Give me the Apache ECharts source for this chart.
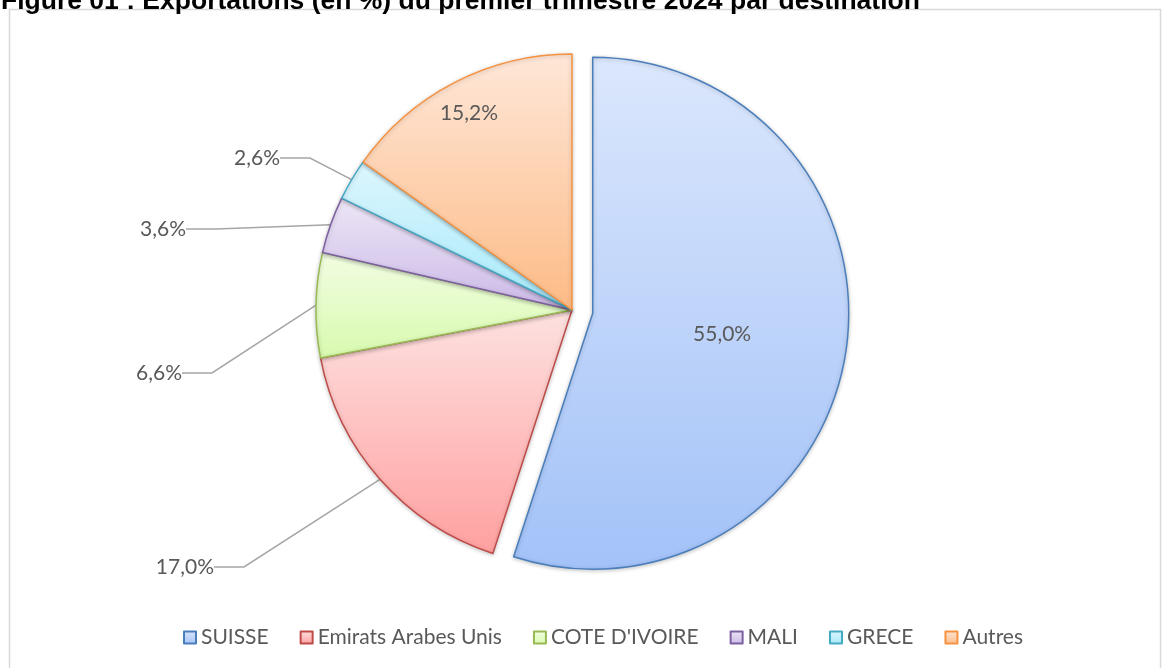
<!DOCTYPE html>
<html>
<head>
<meta charset="utf-8">
<script src="https://cdn.jsdelivr.net/npm/echarts@6/dist/echarts.min.js"></script>
<style>
    html, body { margin: 0; padding: 0; background: #ffffff; }
    #main { width: 1163px; height: 668px; }
</style>
</head>
<body>
<div id="main"></div>
<script>
/////////////////////////////
var categories = ['SUISSE', 'Emirats Arabes Unis', "COTE D'IVOIRE", 'MALI', 'GRECE', 'Autres'];
var values = [55.0, 17.0, 6.6, 3.6, 2.6, 15.2];
var topColors = ['#dbe7fc', '#fde1e0', '#f2fde3', '#ede6f6', '#ddf6fd', '#fee7d8'];
var bottomColors = ['#a3c2f8', '#ffa0a0', '#d8faae', '#cbb9e7', '#a6eafb', '#fdbb86'];
var borderColors = ['#4a7ebb', '#be4b48', '#98b954', '#7d60a0', '#46aac5', '#f69240'];

// label placement (pixel position, alignment), same order as categories
var labelPos = [
    [797, 346, 'center'],
    [214, 567, 'right'],
    [182, 373, 'right'],
    [186, 229, 'right'],
    [280, 158, 'right'],
    [469, 113, 'center']
];
var insideIdx = [0, 5];

function fmtPct(v) {
    return v.toFixed(1).replace('.', ',') + '%';
}

function buildPieData() {
    var dats = [];
    for (var i = 0; i < categories.length; i++) {
        var inside = insideIdx.indexOf(i) >= 0;
        dats.push({
            name: categories[i],
            value: values[i],
            selected: i === 0,
            itemStyle: {
                color: new echarts.graphic.LinearGradient(0, 0, 0, 1, [
                    { offset: 0, color: topColors[i] },
                    { offset: 1, color: bottomColors[i] }
                ]),
                borderColor: borderColors[i]
            },
            label: { position: inside ? 'inside' : 'outside' },
            labelLine: { show: !inside }
        });
    }
    return dats;
}

var chart = echarts.init(document.getElementById('main'));
var option = {
    animation: false,
    title: {
        text: 'Figure 01 : Exportations (en %) du premier trimestre 2024 par destination',
        left: -4,
        top: -17,
        textStyle: {
            fontFamily: 'Liberation Sans',
            fontWeight: 'bold',
            fontSize: 26.5,
            color: '#000000'
        }
    },
    graphic: [{
        type: 'rect',
        shape: { x: 9.5, y: 9.5, width: 1151, height: 700 },
        style: { fill: 'none', stroke: '#d9d9d9', lineWidth: 1.5 },
        silent: true
    }],
    legend: {
        data: categories,
        left: 178,
        top: 622,
        itemWidth: 12,
        itemHeight: 12,
        itemGap: 31,
        icon: 'rect',
        textStyle: {
            fontFamily: 'Lato',
            fontSize: 21,
            color: '#595959'
        }
    },
    series: [{
        type: 'pie',
        center: [572, 310],
        radius: 256,
        startAngle: 90,
        clockwise: true,
        selectedMode: 'single',
        selectedOffset: 21,
        avoidLabelOverlap: false,
        emphasis: { disabled: true },
        itemStyle: {
            borderWidth: 1.5,
            shadowBlur: 4,
            shadowColor: 'rgba(0,0,0,0.22)',
            shadowOffsetY: 1
        },
        label: {
            formatter: function (p) {
                return fmtPct(p.value);
            },
            fontFamily: 'Lato',
            fontSize: 21,
            color: '#595959'
        },
        labelLine: {
            lineStyle: { color: '#a6a6a6', width: 1.5 }
        },
        labelLayout: function (params) {
            var lp = labelPos[params.dataIndex];
            return {
                x: lp[0],
                y: lp[1],
                align: lp[2],
                verticalAlign: 'middle'
            };
        },
        data: buildPieData()
    }]
};
chart.setOption(option);
</script>
</body>
</html>
